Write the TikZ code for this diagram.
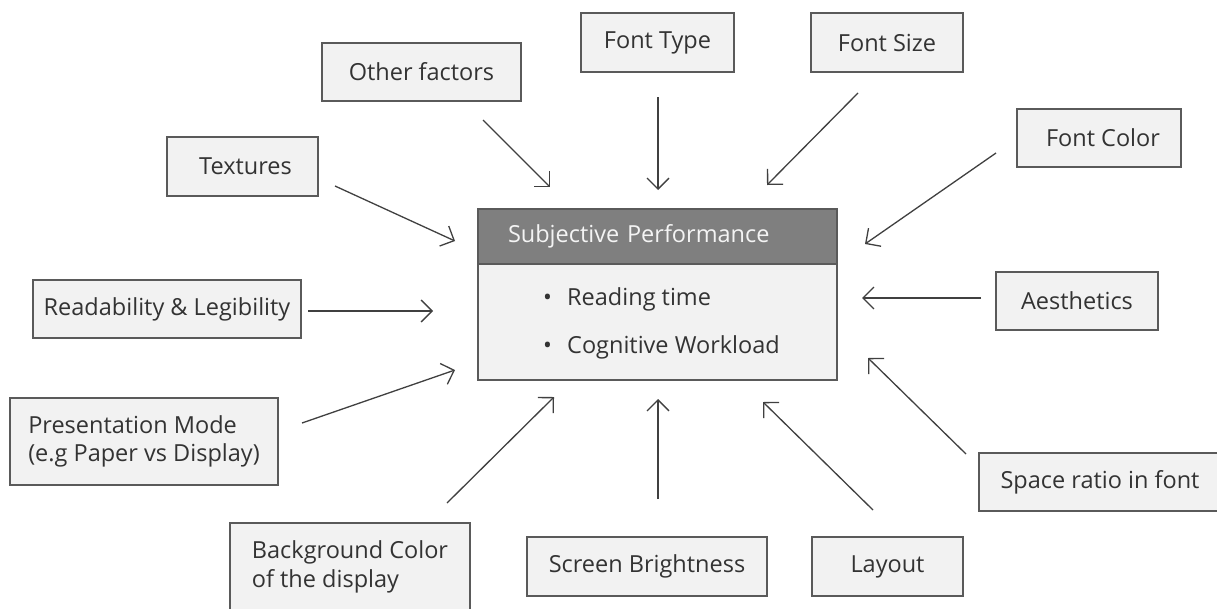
\documentclass[tikz,border=0pt]{standalone}
\usepackage{fontspec}
\setmainfont{Open Sans}
\usetikzlibrary{arrows.meta}
\definecolor{boxfill}{HTML}{F2F2F2}
\definecolor{boxline}{HTML}{5A5A5A}
\definecolor{headfill}{HTML}{7F7F7F}
\definecolor{headtxt}{HTML}{F4F4F4}
\definecolor{txt}{HTML}{333333}
\definecolor{arrcol}{HTML}{404040}
\begin{document}
\begin{tikzpicture}[x=1pt,y=-1pt,
  factor/.style={draw=boxline, fill=boxfill, line width=1.3pt, inner sep=0pt,
    text=txt, font=\fontsize{23.5}{28.5}\selectfont, align=center},
  arr/.style={draw=arrcol, line width=1.3pt, -{Straight Barb[length=11pt,width=22pt]}}]
\useasboundingbox (0,0) rectangle (1217,608);
\fill[white] (0,0) rectangle (1217,608);

% central box
\node[factor, minimum width=359pt, minimum height=171pt] (central) at (657.5,294.5) {};
\node[draw=boxline, fill=headfill, line width=1.3pt, text=headtxt,
  font=\fontsize{23.5}{28.5}\selectfont, text width=299pt, inner xsep=30pt, inner ysep=0pt,
  minimum height=55pt, align=left] (head) at (657.5,236.5) {Subjective Performance};
\node[anchor=west, text=txt, font=\fontsize{23.5}{48}\selectfont, align=left, inner sep=0pt]
  (items) at (543,323) {\makebox[24pt][l]{•}Reading time\\\makebox[24pt][l]{•}Cognitive Workload};

% factor boxes
\node[factor, minimum width=199pt, minimum height=58pt] (otherf) at (421.5,72) {Other factors};
\node[factor, minimum width=153pt, minimum height=59pt] (fonttype) at (657.5,42.5) {Font Type};
\node[factor, minimum width=152pt, minimum height=59pt] (fontsize) at (887,42.5) {Font Size};
\node[factor, minimum width=164pt, minimum height=58pt] (fontcolor) at (1099,138) {\hspace*{8pt}Font Color};
\node[factor, minimum width=151pt, minimum height=59pt] (textures) at (242.5,166.5) {\hspace*{6pt}Textures};
\node[factor, minimum width=268pt, minimum height=58pt] (readab) at (167,309) {Readability \& Legibility};
\node[factor, minimum width=162pt, minimum height=58pt] (aesth) at (1077,301) {Aesthetics};
\node[factor, minimum width=268pt, minimum height=87pt, align=left] (present) at (144,441.5) {Presentation Mode\\(e.g Paper vs Display)};
\node[factor, minimum width=242pt, minimum height=58pt] (space) at (1100,482) {Space ratio in font};
\node[factor, minimum width=240pt, minimum height=88pt, align=left] (backg) at (350,567) {Background Color\\of the display};
\node[factor, minimum width=240pt, minimum height=59pt] (screen) at (647,566.5) {Screen Brightness};
\node[factor, minimum width=151pt, minimum height=59pt] (layout) at (887.5,566.5) {Layout};

% arrow end points
\coordinate (a1s) at (483,120);  \coordinate (a1e) at (550,187);
\coordinate (a2s) at (658,97);   \coordinate (a2e) at (658,190);
\coordinate (a3s) at (858,93);   \coordinate (a3e) at (767,185);
\coordinate (a4s) at (996,153);  \coordinate (a4e) at (865,244);
\coordinate (a5s) at (335,186);  \coordinate (a5e) at (455,241);
\coordinate (a6s) at (308,311);  \coordinate (a6e) at (433,311);
\coordinate (a7s) at (981,298);  \coordinate (a7e) at (862,298);
\coordinate (a8s) at (302,423);  \coordinate (a8e) at (455,370);
\coordinate (a9s) at (966,454);  \coordinate (a9e) at (868,358);
\coordinate (a10s) at (447,503); \coordinate (a10e) at (554,397);
\coordinate (a11s) at (658,499); \coordinate (a11e) at (658,399);
\coordinate (a12s) at (873,510); \coordinate (a12e) at (763,402);

\foreach \i in {1,...,12} {\draw[arr] (a\i s) -- (a\i e);}
\end{tikzpicture}
\end{document}
